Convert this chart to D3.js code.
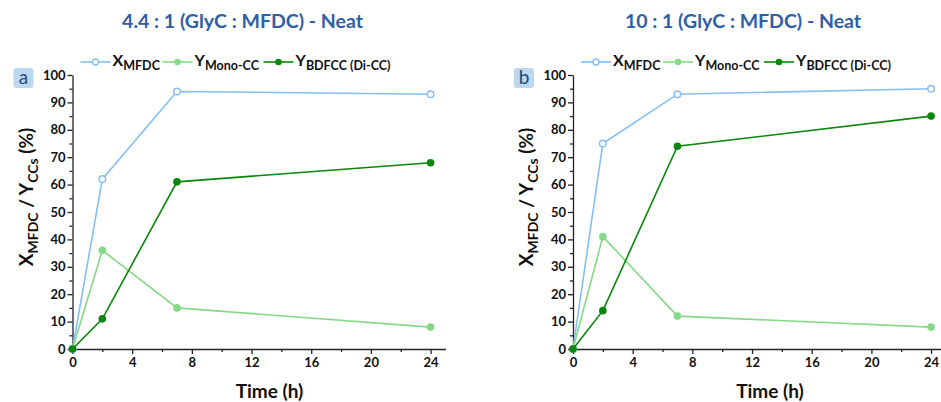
<!DOCTYPE html>
<html>
<head>
<meta charset="utf-8">
<script src="https://cdn.jsdelivr.net/npm/d3@7"></script>
<style>
  body { margin: 0; background: #fff; }
  svg { display: block; font-family: Lato, "Open Sans", sans-serif; }
</style>
</head>
<body>
<div class="chart"></div>
<script>
// data
const times = [0, 2, 7, 24];
const xMfdcA = [0, 62, 94, 93];
const yMonoA = [0, 36, 15, 8];
const yDiA = [0, 11, 61, 68];
const xMfdcB = [0, 75, 93, 95];
const yMonoB = [0, 41, 12, 8];
const yDiB = [0, 14, 74, 85];
const titles = ["4.4 : 1 (GlyC : MFDC) - Neat", "10 : 1 (GlyC : MFDC) - Neat"];
const panelLabels = ["a", "b"];
const xTicks = [0, 4, 8, 12, 16, 20, 24];
const xMinor = [2, 6, 10, 14, 18, 22];
const yTicks = [0, 10, 20, 30, 40, 50, 60, 70, 80, 90, 100];
const yMinor = [5, 15, 25, 35, 45, 55, 65, 75, 85, 95];

const colors = { x: "#86bff2", mono: "#86d986", di: "#0a860a" };

const svg = d3.select(".chart").append("svg")
    .attr("width", 941)
    .attr("height", 402);

function panel(left, title, label, xs, monos, dis) {
    const top = 75, bottom = 349;
    const xScale = d3.scaleLinear().domain([0, 25]).range([left, left + 25 * 14.92]);
    const yScale = d3.scaleLinear().domain([0, 100]).range([bottom, top]);

    // title
    svg.append("text")
        .attr("x", left + 170)
        .attr("y", 28)
        .attr("text-anchor", "middle")
        .style("font-size", "19.5px")
        .style("font-weight", "bold")
        .style("fill", "#2f5fa6")
        .text(title);

    // panel letter
    svg.append("rect")
        .attr("x", left - 59).attr("y", 68)
        .attr("width", 20).attr("height", 20)
        .attr("rx", 3)
        .style("fill", "#bdd7ee");
    svg.append("text")
        .attr("x", left - 49).attr("y", 84)
        .attr("text-anchor", "middle")
        .style("font-size", "19px")
        .style("fill", "#244a7c")
        .text(label);

    // axes
    const xAxis = svg.append("g")
        .attr("transform", `translate(0,${bottom})`)
        .call(d3.axisBottom(xScale).tickValues(xTicks).tickSize(5).tickSizeOuter(0));
    svg.append("g")
        .attr("transform", `translate(0,${bottom})`)
        .call(d3.axisBottom(xScale).tickValues(xMinor).tickSize(3).tickFormat(""))
        .select(".domain").remove();
    const yAxis = svg.append("g")
        .attr("transform", `translate(${left},0)`)
        .call(d3.axisLeft(yScale).tickValues(yTicks).tickSize(5).tickSizeOuter(0));
    svg.append("g")
        .attr("transform", `translate(${left},0)`)
        .call(d3.axisLeft(yScale).tickValues(yMinor).tickSize(3).tickFormat(""))
        .select(".domain").remove();

    svg.selectAll(".tick text")
        .style("font-size", "13px")
        .style("font-weight", "bold")
        .style("font-family", "Lato, sans-serif")
        .style("fill", "#111");
    svg.selectAll(".domain, .tick line").style("stroke", "#222").style("stroke-width", 1.3);
    xAxis.selectAll(".tick text").attr("y", 9);
    yAxis.selectAll(".tick text").attr("x", -7);

    // axis titles
    svg.append("text")
        .attr("x", left + 197)
        .attr("y", 398)
        .attr("text-anchor", "middle")
        .style("font-size", "19px")
        .style("font-weight", "bold")
        .style("fill", "#111")
        .text("Time (h)");

    const yl = svg.append("text")
        .attr("transform", `translate(${left - 40},197) rotate(-90)`)
        .attr("text-anchor", "middle")
        .style("font-size", "19px")
        .style("font-weight", "bold")
        .style("fill", "#111");
    yl.append("tspan").text("X");
    yl.append("tspan").attr("dy", 5).style("font-size", "14px").text("MFDC");
    yl.append("tspan").attr("dy", -5).text(" / Y");
    yl.append("tspan").attr("dy", 5).style("font-size", "14px").text("CCs");
    yl.append("tspan").attr("dy", -5).text(" (%)");

    // series
    const series = [
        { vals: xs, color: colors.x, open: true },
        { vals: monos, color: colors.mono, open: false },
        { vals: dis, color: colors.di, open: false }
    ];
    const line = d3.line().x((d, i) => xScale(times[i])).y(d => yScale(d));
    series.forEach(s => {
        svg.append("path")
            .datum(s.vals)
            .attr("d", line)
            .style("fill", "none")
            .style("stroke", s.color)
            .style("stroke-width", 1.6);
        svg.selectAll(null)
            .data(s.vals)
            .enter().append("circle")
            .attr("cx", (d, i) => xScale(times[i]))
            .attr("cy", d => yScale(d))
            .attr("r", s.open ? 3.3 : 3.8)
            .style("fill", s.open ? "#fff" : s.color)
            .style("stroke", s.color)
            .style("stroke-width", s.open ? 1.5 : 0);
    });

    // legend
    const legendItems = [
        { off: 8, main: "X", sub: "MFDC", color: colors.x, open: true },
        { off: 90, main: "Y", sub: "Mono-CC", color: colors.mono, open: false },
        { off: 191, main: "Y", sub: "BDFCC (Di-CC)", color: colors.di, open: false }
    ];
    legendItems.forEach(it => {
        const lx = left + it.off, ly = 62;
        svg.append("line")
            .attr("x1", lx).attr("x2", lx + 30)
            .attr("y1", ly).attr("y2", ly)
            .style("stroke", it.color).style("stroke-width", 1.6);
        svg.append("circle")
            .attr("cx", lx + 15).attr("cy", ly)
            .attr("r", it.open ? 3 : 3.3)
            .style("fill", it.open ? "#fff" : it.color)
            .style("stroke", it.color)
            .style("stroke-width", it.open ? 1.4 : 0);
        const t = svg.append("text")
            .attr("x", lx + 32).attr("y", ly + 4)
            .style("font-size", "16px")
            .style("font-weight", "bold")
            .style("fill", "#111");
        t.append("tspan").text(it.main);
        t.append("tspan").attr("dy", 4).style("font-size", "12.5px").text(it.sub);
    });
}

panel(72.5, titles[0], panelLabels[0], xMfdcA, yMonoA, yDiA);
panel(573, titles[1], panelLabels[1], xMfdcB, yMonoB, yDiB);
</script>
</body>
</html>
